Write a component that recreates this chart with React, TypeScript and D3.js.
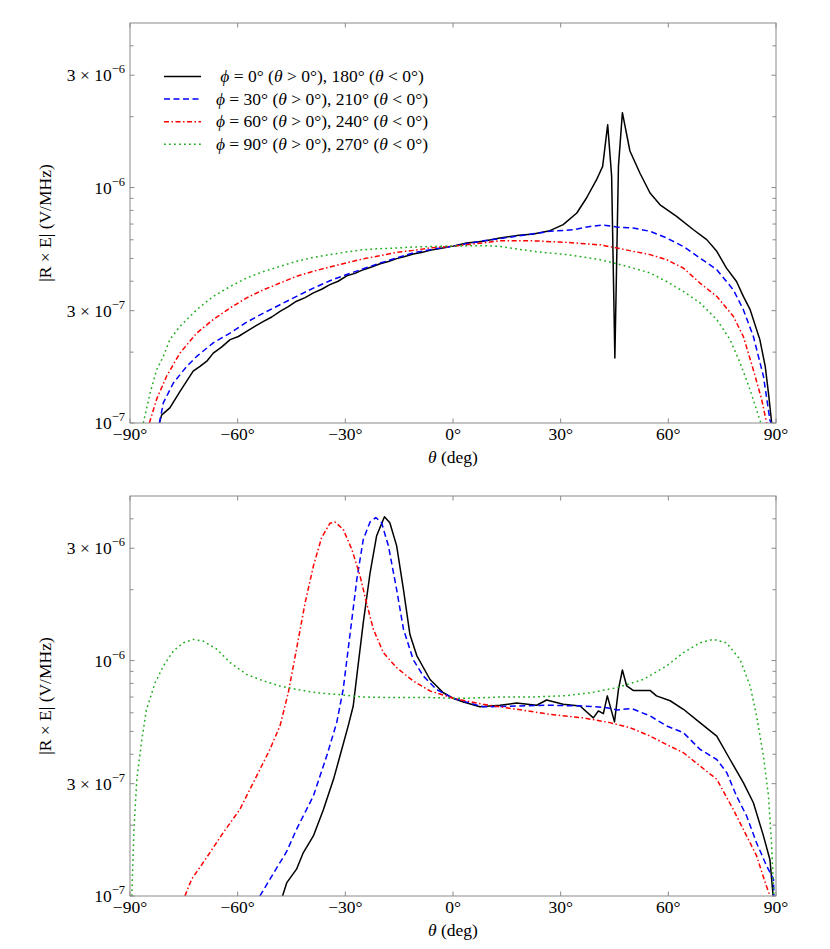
import React from 'react';
import * as d3 from 'd3';

// values are in units of 1e-7 V/MHz, angle θ in degrees
const UNIT = 1e-7;

const xTickValues = [-90, -60, -30, 0, 30, 60, 90];
const yLabeledTicks = [1e-7, 3e-7, 1e-6, 3e-6];
const yMinorTicks = [2e-7, 4e-7, 5e-7, 6e-7, 7e-7, 8e-7, 9e-7, 2e-6, 4e-6];

const legendLabels = [
  ['0', '180'],
  ['30', '210'],
  ['60', '240'],
  ['90', '270'],
];

// ---------- top panel ----------
const topPhi0: [number, number][] = [
  [-81.8, 1.0], [-81.2, 1.08], [-78.9, 1.16], [-76.1, 1.36], [-72.4, 1.66], [-70.5, 1.74], [-68.6, 1.83], [-66.8, 1.98],
  [-64.5, 2.1], [-62.1, 2.26], [-59.8, 2.33], [-57.5, 2.45], [-55.1, 2.58], [-52.8, 2.7], [-50.5, 2.82], [-48.2, 2.98],
  [-45.9, 3.12], [-43.6, 3.29], [-41.2, 3.41], [-38.9, 3.57], [-36.6, 3.7], [-34.3, 3.87], [-32, 4.0],
  [-29.6, 4.22], [-27.3, 4.32], [-25, 4.48], [-22.7, 4.6], [-20.3, 4.75], [-18, 4.85], [-15.7, 4.99], [-13.4, 5.1],
  [-11.1, 5.22], [-8.8, 5.3], [-6.4, 5.41], [-3.2, 5.52], [0, 5.64],
  [3.8, 5.82], [8.4, 5.91], [13.1, 6.11], [17.7, 6.25], [22.4, 6.35], [27, 6.56], [30.7, 6.96], [34.5, 7.8],
  [37.2, 9.03], [40, 10.8], [41.7, 12.3], [43.1, 18.5], [44.2, 11.2], [45.1, 1.89], [46.1, 12.3], [47.2, 20.8],
  [49.3, 14.3], [52.1, 11.5], [54.9, 9.48], [57.7, 8.45], [62.3, 7.54], [67, 6.62], [70.7, 6.01], [73.5, 5.36],
  [76.2, 4.55], [79, 3.99], [80.9, 3.45], [82.8, 3.03], [85.5, 2.26], [87, 1.74], [87.9, 1.34], [88.8, 1.0],
];
const topPhi30: [number, number][] = [
  [-81.8, 1.0], [-80.7, 1.22], [-77.9, 1.48], [-74.2, 1.74], [-71.4, 1.92], [-66.8, 2.19], [-62.1, 2.41],
  [-57.5, 2.68], [-52.8, 2.93], [-48.2, 3.18], [-43.6, 3.45], [-38.9, 3.74], [-34.3, 4.02], [-29.6, 4.27],
  [-25, 4.52], [-20.3, 4.78], [-15.7, 5.02], [-11.1, 5.28], [-6.4, 5.45], [0, 5.64], [8.4, 5.94], [17.7, 6.21],
  [27, 6.52], [33.5, 6.62], [38.2, 6.84], [41.9, 6.93], [45.6, 6.8], [50.2, 6.73], [54.9, 6.52], [59.5, 6.11],
  [64.2, 5.62], [68.8, 5.02], [73.5, 4.48], [78.1, 3.68], [80.9, 3.03], [83.7, 2.33], [86.5, 1.58], [88.3, 1.03],
  [88.6, 1.0],
];
const topPhi60: [number, number][] = [
  [-84.6, 1.0], [-82.6, 1.26], [-79.8, 1.58], [-76.1, 1.98], [-71.4, 2.41], [-66.8, 2.75], [-62.1, 3.08],
  [-57.5, 3.4], [-52.8, 3.68], [-48.2, 3.93], [-43.6, 4.2], [-38.9, 4.41], [-34.3, 4.6], [-29.6, 4.79],
  [-25, 4.98], [-20.3, 5.14], [-15.7, 5.31], [-11.1, 5.41], [-6.4, 5.54], [0, 5.64], [8.4, 5.82], [13.1, 5.95],
  [22.4, 5.94], [31.7, 5.85], [41, 5.71], [45.6, 5.54], [50.2, 5.36], [54.9, 5.19], [59.5, 4.94], [64.2, 4.55],
  [68.8, 3.93], [73.5, 3.45], [78.1, 2.84], [80.9, 2.33], [83.7, 1.68], [86, 1.26], [87.4, 1.0],
];
const topPhi90: [number, number][] = [
  [-86.3, 1.0], [-84.4, 1.34], [-82.6, 1.68], [-80.7, 1.92], [-78.9, 2.26], [-76.1, 2.57], [-71.4, 3.03],
  [-66.8, 3.45], [-62.1, 3.8], [-57.5, 4.13], [-52.8, 4.4], [-48.2, 4.63], [-43.6, 4.86], [-38.9, 5.05],
  [-34.3, 5.19], [-29.6, 5.33], [-25, 5.45], [-20.3, 5.5], [-15.7, 5.54], [-11.1, 5.59], [-6.4, 5.62], [0, 5.64],
  [8.4, 5.67], [13.1, 5.62], [22.4, 5.36], [31.7, 5.19], [41, 4.94], [45.6, 4.75], [50.2, 4.55], [54.9, 4.34],
  [59.5, 3.99], [64.2, 3.62], [68.8, 3.24], [73.5, 2.75], [77.2, 2.26], [80, 1.8], [82.8, 1.38], [85.5, 1.03],
  [85.8, 1.0],
];

// ---------- bottom panel ----------
const botPhi0: [number, number][] = [
  [-47.5, 1.0], [-46.3, 1.14], [-43.6, 1.3], [-41.7, 1.53], [-38.9, 1.8], [-36.1, 2.33], [-33.3, 3.13],
  [-31.5, 3.93], [-29.2, 5.28], [-27.8, 6.41], [-26.8, 8.61], [-25, 14.5], [-23.1, 23.6], [-21.3, 33.8],
  [-19.1, 40.8], [-17.6, 38.5], [-15.7, 30.7], [-13.8, 20.0], [-12, 12.9], [-10.1, 10.5], [-6.4, 8.31],
  [-2.7, 7.3], [0, 6.92], [2.9, 6.67], [7.5, 6.36], [13.1, 6.46], [17.7, 6.6], [23.3, 6.46], [26.1, 6.8],
  [30.7, 6.52], [35.4, 6.41], [39.1, 5.71], [40.5, 6.11], [41.9, 5.95], [43, 7.08], [45, 5.49], [46.1, 7.54],
  [47.2, 9.12], [48.4, 7.8], [50.2, 7.47], [54.9, 7.47], [56.7, 7.08], [60.5, 6.75], [64.2, 6.21], [68.8, 5.45],
  [73.5, 4.78], [77.2, 3.8], [80.9, 3.03], [83.7, 2.49], [86.5, 1.8], [88.3, 1.43], [89.2, 1.0],
];
const botPhi30: [number, number][] = [
  [-53.8, 1.0], [-51, 1.18], [-46.3, 1.55], [-43.6, 1.92], [-38.9, 2.66], [-35.2, 3.93], [-32.4, 5.45],
  [-30.6, 7.54], [-28.7, 12.9], [-26.8, 22.1], [-25, 32.7], [-23.1, 38.8], [-21.5, 40.5], [-19.9, 38.5],
  [-18, 30.7], [-15.7, 20.0], [-13.8, 13.6], [-11.1, 10.1], [-8.3, 8.61], [-4.6, 7.54], [0, 6.92], [8.4, 6.36],
  [17.7, 6.41], [27, 6.46], [36.3, 6.41], [42.8, 6.31], [45.6, 6.17], [49.8, 6.25], [54.9, 5.82], [59.5, 5.28],
  [64.2, 4.94], [68.8, 4.2], [73.5, 3.8], [76.3, 3.34], [79, 2.66], [81.8, 2.19], [84.6, 1.68], [87.4, 1.34],
  [89.3, 1.18], [89.4, 1.0],
];
const botPhi60: [number, number][] = [
  [-74.7, 1.0], [-72.8, 1.18], [-68.6, 1.46], [-64, 1.86], [-59.4, 2.33], [-54.7, 3.24], [-51, 4.2],
  [-48.2, 5.28], [-45.9, 7.3], [-43.6, 11.2], [-41.2, 17.6], [-38.9, 25.2], [-36.6, 33.3], [-34.3, 38.3],
  [-32.9, 38.8], [-30.6, 36.1], [-28.2, 29.7], [-25.9, 22.9], [-24.1, 17.6], [-22.2, 13.6], [-19.4, 10.8],
  [-15.7, 9.33], [-11.1, 8.19], [-6.4, 7.43], [0, 6.92], [8.4, 6.52], [17.7, 6.21], [27, 5.91], [36.3, 5.71],
  [43.7, 5.45], [49.3, 5.19], [54.9, 4.78], [59.5, 4.4], [64.2, 4.06], [68.8, 3.57], [73.5, 3.13], [78.1, 2.33],
  [81.8, 1.8], [84.6, 1.48], [87, 1.14], [88.3, 1.0],
];
const botPhi90: [number, number][] = [
  [-89.5, 1.0], [-88.9, 1.92], [-88.1, 3.13], [-86.7, 4.63], [-85.4, 6.21], [-83, 8.05], [-80.7, 9.48],
  [-77.9, 11.0], [-75.1, 11.9], [-72.4, 12.3], [-69.6, 12.1], [-65.9, 11.2], [-62.1, 9.8], [-57.5, 8.73],
  [-52.8, 8.19], [-48.2, 7.8], [-43.6, 7.54], [-38, 7.3], [-30.6, 7.14], [-25, 7.0], [-15.7, 6.96], [-6.4, 6.96],
  [0, 6.92], [3.8, 6.92], [13.1, 7.0], [22.4, 7.0], [31.7, 7.1], [38.2, 7.3], [45.6, 7.67], [53, 8.31],
  [59.5, 9.48], [64.2, 10.8], [68.8, 11.9], [72.5, 12.3], [76.2, 11.9], [80, 10.1], [82.8, 7.8], [84.6, 5.82],
  [86.5, 3.93], [87.9, 2.66], [88.8, 1.63], [89.4, 1.0],
];

const seriesStyles = [
  { color: '#000000', dash: 'none' },
  { color: '#0000ff', dash: '6,3.5' },
  { color: '#ff0000', dash: '5,2.5,1.5,2.5' },
  { color: '#1fae1f', dash: '1.8,3.2' },
];

const FONT = '"Liberation Serif", "Times New Roman", serif';
const FS = 17.5;
const LEFT = 130;
const RIGHT = 776;
const PANEL_H = 400;

function YTickLabel({ v, y }: { v: number; y: number }) {
  const exp = Math.floor(Math.log10(v) + 1e-9);
  const mant = Math.round(v / Math.pow(10, exp));
  return (
    <text x={125} y={y + 6} textAnchor="end" fontFamily={FONT} fontSize={FS} fill="#000">
      <tspan>{mant === 1 ? '10' : `${mant} × 10`}</tspan>
      <tspan dy={-8} fontSize={12.5}>{`−${-exp}`}</tspan>
    </text>
  );
}

function Panel({ top, series, legend, id }: { top: number; series: [number, number][][]; legend: boolean; id: string }) {
  const x = d3.scaleLinear().domain([-90, 90]).range([LEFT, RIGHT]);
  const y = d3.scaleLog().domain([1e-7, 5e-6]).range([top + PANEL_H, top]);
  const line = d3
    .line<[number, number]>()
    .x((d) => x(d[0]))
    .y((d) => y(d[1] * UNIT));
  const bottom = top + PANEL_H;
  const tickColor = '#8a8a8a';
  return (
    <g>
      <defs>
        <clipPath id={id}>
          <rect x={LEFT} y={top} width={RIGHT - LEFT} height={PANEL_H} />
        </clipPath>
      </defs>
      <g clipPath={`url(#${id})`}>
        {series.map((s, i) => (
          <path
            key={i}
            d={line(s) || ''}
            fill="none"
            stroke={seriesStyles[i].color}
            strokeWidth={1.5}
            strokeDasharray={seriesStyles[i].dash}
            strokeLinejoin="round"
          />
        ))}
      </g>
      <rect x={LEFT} y={top} width={RIGHT - LEFT} height={PANEL_H} fill="none" stroke={tickColor} strokeWidth={1} />
      {xTickValues.map((t) => (
        <g key={t}>
          <line x1={x(t)} x2={x(t)} y1={bottom} y2={bottom - 4.5} stroke={tickColor} />
          <line x1={x(t)} x2={x(t)} y1={top} y2={top + 4.5} stroke={tickColor} />
          <text x={x(t)} y={bottom + 17} textAnchor="middle" fontFamily={FONT} fontSize={FS} fill="#000">
            {t < 0 ? `−${-t}°` : `${t}°`}
          </text>
        </g>
      ))}
      {yLabeledTicks.map((v) => (
        <g key={v}>
          <line x1={LEFT} x2={LEFT + 4.5} y1={y(v)} y2={y(v)} stroke={tickColor} />
          <line x1={RIGHT} x2={RIGHT - 4.5} y1={y(v)} y2={y(v)} stroke={tickColor} />
          <YTickLabel v={v} y={y(v)} />
        </g>
      ))}
      {yMinorTicks.map((v) => (
        <g key={v}>
          <line x1={LEFT} x2={LEFT + 3.5} y1={y(v)} y2={y(v)} stroke={tickColor} />
          <line x1={RIGHT} x2={RIGHT - 3.5} y1={y(v)} y2={y(v)} stroke={tickColor} />
        </g>
      ))}
      <text
        transform={`translate(51,${top + PANEL_H / 2}) rotate(-90)`}
        textAnchor="middle"
        fontFamily={FONT}
        fontSize={FS}
        fill="#000"
      >
        |R × E| (V/MHz)
      </text>
      <text x={(LEFT + RIGHT) / 2} y={bottom + 40} textAnchor="middle" fontFamily={FONT} fontSize={FS} fill="#000">
        <tspan fontStyle="italic">θ</tspan>
        <tspan> (deg)</tspan>
      </text>
      {legend &&
        legendLabels.map((lab, i) => {
          const ly = top + 53.5 + i * 22.6;
          return (
            <g key={i}>
              <line
                x1={164}
                x2={201}
                y1={ly}
                y2={ly}
                stroke={seriesStyles[i].color}
                strokeWidth={1.5}
                strokeDasharray={seriesStyles[i].dash}
              />
              <text x={322} y={ly + 5.5} textAnchor="middle" fontFamily={FONT} fontSize={FS} fill="#000">
                <tspan fontStyle="italic">ϕ</tspan>
                <tspan>{` = ${lab[0]}° (`}</tspan>
                <tspan fontStyle="italic">θ</tspan>
                <tspan>{` > 0°), ${lab[1]}° (`}</tspan>
                <tspan fontStyle="italic">θ</tspan>
                <tspan>{` < 0°)`}</tspan>
              </text>
            </g>
          );
        })}
    </g>
  );
}

export default function App() {
  return (
    <svg
      width={830}
      height={949}
      style={{ position: 'absolute', left: 0, top: 0, background: '#fff' }}
      xmlns="http://www.w3.org/2000/svg"
    >
      <rect x={0} y={0} width={830} height={949} fill="#fff" />
      <Panel top={23} series={[topPhi0, topPhi30, topPhi60, topPhi90]} legend={true} id="clipTop" />
      <Panel top={496} series={[botPhi0, botPhi30, botPhi60, botPhi90]} legend={false} id="clipBot" />
    </svg>
  );
}
